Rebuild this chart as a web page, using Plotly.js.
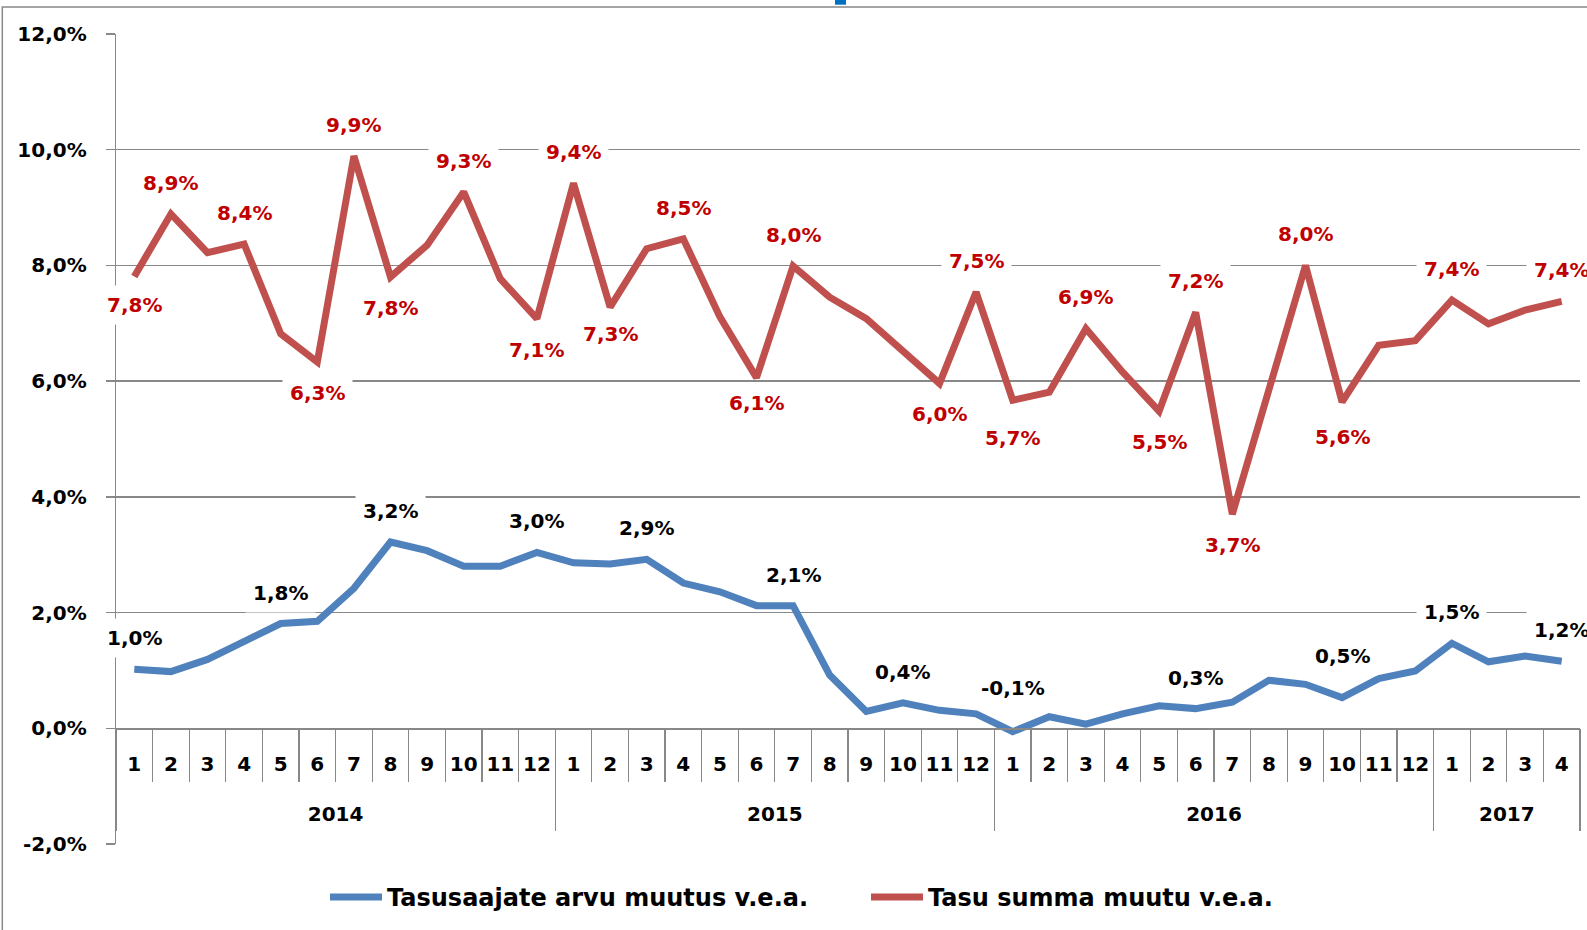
<!DOCTYPE html>
<html><head><meta charset="utf-8">
<script src="https://cdn.plot.ly/plotly-3.0.1.min.js"></script>
<style>html,body{margin:0;padding:0;background:#fff;} #chart{width:1587px;height:930px;}</style>
</head><body><div id="chart"></div>
<script>
// ---- data ----
const monthLabels = ['1','2','3','4','5','6','7','8','9','10','11','12',
  '1','2','3','4','5','6','7','8','9','10','11','12',
  '1','2','3','4','5','6','7','8','9','10','11','12',
  '1','2','3','4'];
const yearLabels = ['2014','2015','2016','2017'];
const monthsInYear = [12,12,12,4];
const seriesNames = ['Tasusaajate arvu muutus v.e.a.', 'Tasu summa muutu v.e.a.'];
const tasusaajateArvuMuutus = [1.02,0.98,1.19,1.49,1.81,1.85,2.42,3.22,3.07,2.80,2.80,3.04,
  2.86,2.84,2.92,2.51,2.36,2.12,2.12,0.92,0.29,0.44,0.31,0.25,
  -0.06,0.20,0.07,0.25,0.39,0.34,0.45,0.83,0.76,0.53,0.86,0.99,
  1.47,1.15,1.25,1.16];
const tasuSummaMuutus = [7.81,8.89,8.22,8.37,6.82,6.33,9.89,7.80,8.35,9.27,7.77,7.08,
  9.42,7.28,8.29,8.46,7.11,6.06,7.99,7.45,7.08,6.53,5.96,7.54,
  5.67,5.81,6.91,6.16,5.48,7.19,3.70,5.85,8.00,5.64,6.62,6.70,
  7.40,6.99,7.23,7.38];
const yTicks = [-2,0,2,4,6,8,10,12];
// points that carry a value label
const blueLabelled = [0,4,7,11,14,18,21,24,29,33,36,39];
const redAbove = [1,3,6,9,12,15,18,23,26,29,32,36,39];
const redBelow = [0,5,7,11,13,17,22,24,28,30,33];

// ---- derived ----
const idx = monthLabels.map((_, i) => i);
const bounds = [-0.5].concat(idx.map(i => i + 0.5));
const yearCenters = [], yearBounds = [-0.5];
let start = 0;
monthsInYear.forEach(n => { yearCenters.push(start + (n - 1) / 2); start += n; yearBounds.push(start - 0.5); });
const fmt = v => v.toFixed(1).replace('.', ',') + '%';

// ---- style ----
const FONT = 'DejaVu Sans';
const GRID = '#888888';
const BLUE = '#4F81BD', RED = '#C0504D', REDTXT = '#C00000';
const tf = (size, color) => ({family: FONT, size: size, color: color || '#000000', weight: 'bold'});
const xr = [-0.5, monthLabels.length - 0.5];
// label placement tweaks (px)
const blueNudge = {24: 13, 33: 11};
const redNudge = {0: 2, 13: 4, 17: 6, 24: -7, 33: -4};

const traces = [
  {x: idx, y: tasusaajateArvuMuutus, name: seriesNames[0], type: 'scatter', mode: 'lines',
   line: {color: BLUE, width: 7}, hoverinfo: 'skip'},
  {x: idx, y: tasuSummaMuutus, name: seriesNames[1], type: 'scatter', mode: 'lines',
   line: {color: RED, width: 7}, hoverinfo: 'skip'}
];
['x2', 'x3', 'x4'].forEach(ax => traces.push({x: idx, y: tasuSummaMuutus, xaxis: ax, type: 'scatter',
  mode: 'markers', marker: {opacity: 0, size: 1}, showlegend: false, hoverinfo: 'skip'}));

const annotations = [];
const addLabel = (i, v, above, color, nudge) => annotations.push({
  xref: 'x', yref: 'y', x: i, y: v, text: fmt(v), showarrow: false,
  xanchor: 'center', yanchor: 'middle', yshift: (above ? 31 : -31) + (nudge || 0),
  bgcolor: '#ffffff', borderpad: 7, font: tf(20, color)
});
blueLabelled.forEach(i => addLabel(i, tasusaajateArvuMuutus[i], true, '#000000', blueNudge[i]));
redAbove.forEach(i => addLabel(i, tasuSummaMuutus[i], true, REDTXT));
redBelow.forEach(i => addLabel(i, tasuSummaMuutus[i], false, REDTXT, redNudge[i]));

const baseX = {range: xr, anchor: 'free', position: 1/7, showgrid: false, zeroline: false, fixedrange: true, tickangle: 0};
const L = 116, R = 7, T = 34, B = 86, W = 1587, H = 930;
const pw = W - L - R, ph = H - T - B;
const px2x = p => (p - L) / pw, py2y = p => (H - B - p) / ph;

const layout = {
  width: W, height: H,
  margin: {l: L, r: R, t: T, b: B, autoexpand: false},
  paper_bgcolor: '#ffffff', plot_bgcolor: '#ffffff',
  font: tf(20),
  showlegend: true,
  xaxis: Object.assign({}, baseX, {showline: true, linecolor: GRID, linewidth: 1.3,
    tickmode: 'array', tickvals: bounds, ticks: 'outside', ticklen: 52, tickwidth: 1.3, tickcolor: GRID,
    showticklabels: false}),
  xaxis2: Object.assign({}, baseX, {overlaying: 'x', showline: false, tickmode: 'array',
    tickvals: idx, ticktext: monthLabels, ticks: '', ticklabelstandoff: 22, tickfont: tf(20)}),
  xaxis3: Object.assign({}, baseX, {overlaying: 'x', showline: false, tickmode: 'array',
    tickvals: yearBounds, ticks: 'outside', ticklen: 102, tickwidth: 1.3, tickcolor: GRID, showticklabels: false}),
  xaxis4: Object.assign({}, baseX, {overlaying: 'x', showline: false, tickmode: 'array',
    tickvals: yearCenters, ticktext: yearLabels, ticks: '', ticklabelstandoff: 72, tickfont: tf(20)}),
  yaxis: {range: [-2, 12], tickmode: 'array', tickvals: yTicks, ticktext: yTicks.map(fmt),
    showgrid: true, gridcolor: GRID, gridwidth: 1.3, showline: true, linecolor: GRID, linewidth: 1.3,
    ticks: 'outside', ticklen: 9, tickwidth: 1.3, tickcolor: GRID, zeroline: false,
    ticklabelstandoff: 15, tickfont: tf(20), fixedrange: true},
  legend: {orientation: 'h', x: px2x(325), xanchor: 'left', y: py2y(897.5), yanchor: 'middle',
    font: tf(24), itemwidth: 52, entrywidth: 474, bgcolor: 'rgba(0,0,0,0)', traceorder: 'normal'},
  annotations: annotations,
  shapes: [
    {type: 'rect', xref: 'paper', yref: 'paper', x0: px2x(2.3), x1: px2x(1595), y0: py2y(940), y1: py2y(7),
     line: {color: GRID, width: 1.5}, fillcolor: 'rgba(0,0,0,0)', layer: 'below'},
    {type: 'rect', xref: 'paper', yref: 'paper', x0: px2x(835), x1: px2x(846), y0: py2y(4.7), y1: py2y(-2),
     line: {width: 0}, fillcolor: '#0070C0', layer: 'above'}
  ]
};

Plotly.newPlot('chart', traces, layout, {staticPlot: true, displayModeBar: false});
</script>
</body></html>
